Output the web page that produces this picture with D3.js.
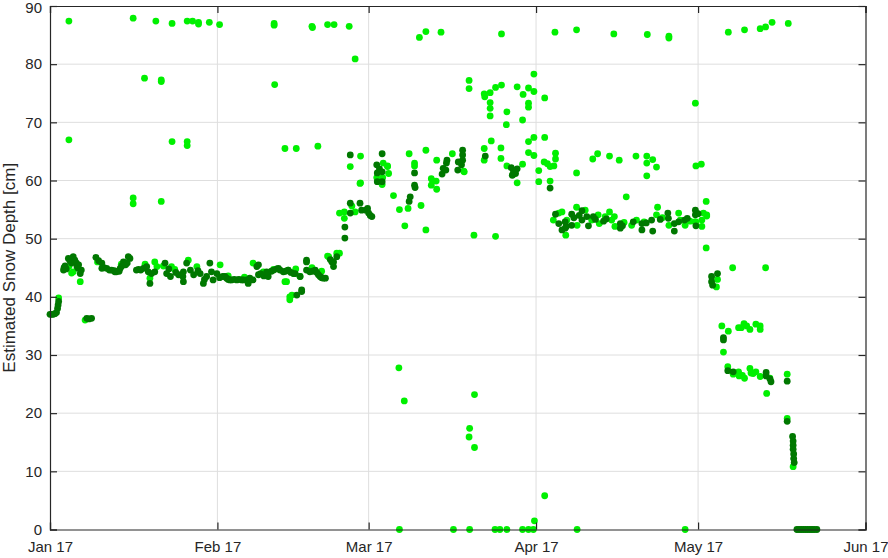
<!DOCTYPE html>
<html>
<head>
<meta charset="utf-8">
<script src="https://cdn.jsdelivr.net/npm/d3@7"></script>
<style>
  html, body { margin: 0; padding: 0; background: #ffffff; }
  svg { display: block; }
  text { font-family: "Liberation Sans", Arial, Helvetica, sans-serif; fill: #262626; }
</style>
</head>
<body>
<svg id="chart" width="888" height="558"></svg>
<script>
// ---------------- DATA ----------------
// Day offsets are counted from 2017-01-17; depths in cm.
const startDate = new Date(2017, 0, 17);
const xTickDates = ["2017-01-17", "2017-02-17", "2017-03-17", "2017-04-17", "2017-05-17", "2017-06-17"];
const yTicks = [0, 10, 20, 30, 40, 50, 60, 70, 80, 90];
const yLabel = "Estimated Snow Depth [cm]";

// bright green series: [day offset, depth]
const lightPoints = [
  // high / low outliers Jan–Feb
  [3.5,87.4],[3.5,67.0],[15.4,87.9],[15.4,57.0],[15.4,56.0],[17.5,77.6],[19.6,87.4],[20.6,77.0],[20.6,77.3],[20.6,56.4],
  [22.6,87.0],[22.6,66.7],[25.4,87.4],[25.4,66.7],[25.4,66.0],[26.4,87.4],[27.5,87.2],[27.5,86.9],[29.5,87.2],[31.4,86.8],
  [41.5,87.0],[41.5,86.7],[41.6,76.5],[43.5,65.5],[45.6,65.5],[48.5,86.5],[48.6,86.3],[49.6,65.9],[51.4,86.8],[52.6,86.8],
  [55.4,86.5],[56.5,80.9],
  // Jan–Feb band
  [1.6,39.8],[4.3,44.3],[5.6,42.6],[4.0,44.1],[3.5,45.2],[6.5,36.0],[18.5,43.2],[19.4,46.0],[19.8,45.2],[17.6,45.6],
  [22.5,45.2],[23.1,44.7],[25.6,46.3],[21.0,45.3],[27.2,45.2],[31.5,45.5],[37.6,45.8],[33.0,43.6],[36.0,43.4],
  [39.5,44.3],[41.4,44.7],[43.5,42.6],[43.8,42.6],[44.1,44.6],[44.4,39.5],[44.4,40.0],[44.8,40.3],[45.1,44.0],[46.3,43.5],
  [51.4,47.0],[51.6,46.9],[53.1,47.5],[53.6,47.5],[48.5,45.0],[50.3,44.4],[45.5,44.8],[13.2,45.6],[8.8,46.0],
  // rise end of Feb
  [53.6,54.4],[54.5,54.6],[54.5,53.5],[56.5,54.6],[57.4,59.5],[55.9,55.6],
  // March
  [55.6,62.4],[57.5,64.2],[57.5,59.6],[61.7,63.0],[62.5,62.5],[62.5,62.4],[62.7,61.2],[60.5,60.5],[61.5,59.3],[61.6,60.5],
  [63.6,57.4],[64.7,55.0],[65.7,52.2],[66.5,64.6],[67.5,63.0],[67.5,62.5],[66.3,55.2],[68.7,55.7],[69.6,65.2],[69.6,51.5],
  [70.6,60.3],[70.6,59.2],[70.9,59.9],[71.6,58.5],[71.5,59.9],[71.6,63.5],[74.5,64.6],[76.7,61.5],[76.6,61.6],
  [68.4,84.6],[69.6,85.6],[72.4,85.5],[83.6,85.2],[93.5,85.5],[97.5,85.9],
  [64.6,27.8],[65.6,22.1],[78.6,23.2],[77.7,17.4],[77.6,15.9],[78.6,14.1],
  [64.7,0],[74.7,0],[77.7,0],[82.4,0],[83.3,0],[84.6,0],[87.5,0],[88.6,0],[89.5,0],[89.7,1.5],[91.6,5.8],[97.6,0],[117.6,0],
  // late March – April scatter
  [77.6,77.2],[77.6,75.8],[89.6,78.3],[80.4,74.9],[80.5,74.4],[81.5,75.1],[82.5,76.0],[83.6,76.4],[86.5,76.1],[88.6,75.9],
  [87.6,74.8],[89.6,75.3],[91.6,74.2],[81.5,73.4],[81.5,72.4],[81.5,71.1],[84.6,71.8],[84.5,69.6],[88.6,73.3],[88.6,72.6],
  [87.5,70.4],[80.4,65.5],[80.4,63.5],[81.7,66.8],[83.5,65.6],[83.5,63.8],[84.6,62.5],[85.7,61.0],[86.5,59.6],[87.5,62.8],
  [88.6,64.8],[89.6,64.3],[88.6,66.7],[89.6,67.4],[91.6,67.4],[90.5,61.7],[90.5,59.8],[91.5,63.2],[92.1,62.9],[92.6,62.4],
  [93.3,62.5],[93.6,64.7],[93.6,63.7],[92.6,59.9],[97.5,61.3],[78.5,50.6],[82.5,50.4],
  [100.5,63.7],[101.4,64.6],[103.6,64.2],[105.4,63.5],[108.5,64.2],[110.5,64.2],[110.5,63.0],[111.6,63.6],[112.3,62.3],[110.5,60.8],
  // April–May band
  [93.2,53.2],[94.2,54.4],[94.8,54.6],[95.7,53.2],[95.5,50.6],[97.5,55.4],[95.4,52.9],[97.6,52.3],[99.1,54.9],[100.3,53.2],
  [101.5,54.1],[101.7,52.6],[103.6,54.6],[104.0,53.2],[104.5,53.8],[104.6,52.1],[107.7,52.3],[108.6,53.2],[110.0,52.9],
  [112.3,54.1],[114.6,52.3],[116.4,54.4],[116.7,53.2],[117.6,52.3],[119.4,52.9],[119.6,52.9],[120.7,52.1],[120.7,53.2],
  [121.6,53.9],[121.6,54.1],[121.0,54.4],[106.7,57.2],[112.5,55.4],[119.6,62.5],[120.6,62.8],[121.5,56.4],[121.5,48.4],
  [119.5,73.3],[104.4,85.2],[110.6,85.1],[114.6,84.8],[114.6,84.5],[125.6,85.5],[128.6,85.9],[131.5,86.1],[132.5,86.4],
  [133.7,87.2],[136.7,87.0],[102.8,53.8],[106.3,52.8],[113.4,53.6],[118.5,53.0],
  // May decline
  [126.4,45.0],[132.5,45.0],[123.6,43.0],[123.4,41.7],[124.4,35.0],[125.6,34.1],[124.7,30.5],[127.5,34.7],[128.5,35.4],
  [129.6,34.4],[130.7,35.3],[131.5,34.4],[129.0,35.0],[128.0,34.7],[131.5,35.0],[125.5,28.0],[126.5,26.7],[127.5,27.1],
  [127.6,26.4],[128.6,26.0],[129.6,27.7],[129.8,26.9],[130.7,27.1],[131.5,26.3],[132.7,23.4],[133.3,26.0],[136.5,26.7],
  [136.5,19.1],[137.6,10.8],[128.2,26.5],[130.2,26.8]
];

// dark green series: [day offset, depth]
const darkPoints = [
  [0.0,37.0],[0.3,37.0],[0.6,37.0],[0.9,37.1],[1.2,37.3],[1.4,38.0],[1.5,38.6],[1.6,39.2],
  [2.5,44.6],[2.6,45.0],[2.8,45.3],[3.0,44.8],[3.4,46.6],[3.7,46.2],[4.3,46.9],[4.0,45.8],[4.6,46.3],[4.9,45.8],[5.0,45.2],
  [5.2,44.9],[5.6,44.0],[5.3,45.5],[5.8,44.6],
  [6.8,36.3],[7.7,36.3],[7.2,36.2],
  [8.5,46.8],[9.0,46.2],[9.6,45.8],[9.6,44.9],[10.0,45.0],[10.5,44.9],[11.0,44.6],[11.4,44.6],[12.0,44.3],[12.3,44.3],
  [13.0,44.9],[13.3,45.3],[13.6,46.0],[14.0,45.5],[14.5,46.9],[14.3,45.8],[14.8,46.6],[12.8,44.4],[11.9,44.5],
  [16.0,44.6],[16.4,44.7],[17.3,44.9],[17.9,45.2],[18.2,44.3],[18.5,42.3],[19.4,44.3],[16.8,44.6],[18.8,44.0],
  [21.3,45.8],[21.6,44.0],[22.3,43.5],[23.3,44.2],[24.6,43.5],[24.7,44.3],[25.3,45.8],[24.7,42.6],[22.0,44.8],[23.8,43.8],
  [26.0,44.6],[26.6,43.8],[27.4,44.5],
  [27.8,44.0],[28.4,42.3],[29.0,43.5],[29.6,45.8],[29.9,44.3],[30.9,44.0],[30.2,42.9],[28.6,43.0],[31.4,43.3],
  [32.0,43.5],[32.4,43.5],[32.7,43.2],[33.0,43.0],[33.3,42.9],[33.6,42.9],[34.6,42.9],[35.5,42.9],[35.8,42.9],[36.4,42.9],
  [36.7,42.3],[37.0,43.2],[37.6,42.9],[38.3,45.2],[38.6,43.8],[38.6,45.5],[34.1,43.0],[35.0,43.0],[39.0,44.0],[39.6,43.6],
  [40.4,43.5],[40.1,44.3],[41.0,44.4],[41.4,44.6],[42.0,44.8],[42.3,44.9],[42.6,44.6],[43.2,44.3],[43.6,44.4],[44.1,44.6],
  [44.6,44.2],[45.1,44.0],[45.4,44.0],[45.7,40.3],[46.6,40.9],[46.6,41.2],[46.3,43.5],[47.5,46.0],[47.5,46.3],[47.5,44.6],
  [48.1,44.3],[48.6,44.4],[49.1,44.6],[49.4,44.2],[49.7,43.8],[50.0,43.5],[50.3,43.3],[50.6,43.2],[51.0,43.2],[51.9,46.4],
  [52.2,46.0],[52.5,45.2],[52.5,46.0],[53.1,46.9],
  [54.6,52.0],[54.6,50.1],[55.6,56.1],[55.6,54.4],[57.4,56.1],[57.7,54.9],[58.5,54.9],[59.0,54.4],[59.6,53.8],[58.8,55.2],[59.3,54.0],
  [55.6,64.4],[61.5,64.6],[60.5,62.7],[60.6,61.3],[60.6,59.8],[61.5,61.5],[61.5,59.8],[61.0,62.0],
  [67.5,61.3],[67.5,59.2],[67.6,58.8],[66.7,57.2],[66.5,56.4],
  [72.6,61.1],[72.8,62.1],[73.4,63.0],[73.5,63.5],[73.3,61.8],
  [76.4,65.2],[76.4,64.4],[76.4,63.5],[76.2,62.7],[75.6,63.2],[75.5,61.8],
  [80.6,64.2],[85.8,61.8],[85.4,62.2],[85.6,60.9],[86.2,61.2],[86.5,62.0],[85.9,61.5],[92.6,58.7],
  [93.6,54.2],[94.2,52.6],[94.8,51.5],[95.6,52.1],[95.4,52.9],[95.4,51.8],[96.6,54.2],[96.6,52.3],[97.0,53.6],[98.0,54.0],
  [98.5,54.8],[98.5,53.2],[99.4,53.8],[99.7,52.2],[100.6,53.8],[101.0,53.3],[102.5,53.0],[103.0,53.4],[105.6,52.6],[105.6,51.8],
  [106.0,52.2],[108.0,52.9],[109.6,52.6],[109.6,51.5],[110.4,52.7],[111.4,53.2],[111.6,51.3],[113.0,53.3],
  [114.4,54.4],[114.5,53.5],[115.6,52.6],[115.6,51.3],[116.4,52.9],[117.5,53.2],[118.0,53.5],[119.5,54.9],[119.5,54.1],
  [119.6,52.2],[120.0,54.3],
  [122.5,43.5],[122.5,42.6],[122.7,42.0],[123.6,44.0],[124.7,33.0],[124.7,32.6],[125.5,27.3],[126.5,27.1],
  [132.6,27.0],[132.6,26.4],[133.5,25.4],[133.3,25.9],[136.5,25.5],[136.5,18.6],
  [137.5,16.0],[137.6,15.2],[137.6,14.5],[137.6,13.8],[137.7,13.0],[137.7,12.2],[137.8,11.5],
  [138.3,0],[138.7,0],[139.1,0],[139.5,0],[139.9,0],[140.3,0],[140.7,0],[141.1,0],[141.5,0],[142.0,0]
];

// ---------------- CHART ----------------
const W = 888, H = 558;
const margin = { left: 50, right: 22.5, top: 6, bottom: 28.5 };
const svg = d3.select("#chart");
const parse = d3.timeParse("%Y-%m-%d");
const tickDates = xTickDates.map(parse);

const x = d3.scaleTime()
  .domain([tickDates[0], tickDates[tickDates.length - 1]])
  .range([margin.left, W - margin.right]);
const y = d3.scaleLinear()
  .domain([0, 90])
  .range([H - margin.bottom, margin.top]);

const toDate = d => new Date(startDate.getTime() + d * 864e5);

const gridColor = "#dedede";
const axisColor = "#262626";
const fontSize = 15;

// grid
const grid = svg.append("g");
grid.selectAll("line.vx").data(tickDates.slice(1, -1)).join("line")
  .attr("x1", d => x(d)).attr("x2", d => x(d))
  .attr("y1", y(0)).attr("y2", y(90))
  .attr("stroke", gridColor).attr("stroke-width", 1);
grid.selectAll("line.hy").data(yTicks.slice(1, -1)).join("line")
  .attr("x1", x.range()[0]).attr("x2", x.range()[1])
  .attr("y1", d => y(d)).attr("y2", d => y(d))
  .attr("stroke", gridColor).attr("stroke-width", 1);

// points
svg.append("g").selectAll("circle").data(lightPoints).join("circle")
  .attr("cx", d => x(toDate(d[0]))).attr("cy", d => y(d[1]))
  .attr("r", 3.4).attr("fill", "#00f000");
svg.append("g").selectAll("circle").data(darkPoints).join("circle")
  .attr("cx", d => x(toDate(d[0]))).attr("cy", d => y(d[1]))
  .attr("r", 3.4).attr("fill", "#007800");

// axes (ticks inward on all four sides)
const tickLen = 7;
const fmt = d3.timeFormat("%b %d");
const xAxisB = d3.axisBottom(x).tickValues(tickDates).tickFormat(fmt).tickSize(-tickLen).tickPadding(12);
const xAxisT = d3.axisTop(x).tickValues(tickDates).tickFormat("").tickSize(-tickLen);
const yAxisL = d3.axisLeft(y).tickValues(yTicks).tickSize(-tickLen).tickPadding(8);
const yAxisR = d3.axisRight(y).tickValues(yTicks).tickFormat("").tickSize(-tickLen);

function style(g) {
  g.select(".domain").attr("stroke", axisColor).attr("stroke-width", 1.2);
  g.selectAll(".tick line").attr("stroke", axisColor).attr("stroke-width", 1.2);
  g.selectAll(".tick text").attr("fill", axisColor)
    .style("font-family", '"Liberation Sans", Arial, sans-serif')
    .style("font-size", fontSize + "px");
}
svg.append("g").attr("transform", `translate(0,${y(0)})`).call(xAxisB).call(style);
svg.append("g").attr("transform", `translate(0,${y(90)})`).call(xAxisT).call(style);
svg.append("g").attr("transform", `translate(${x.range()[0]},0)`).call(yAxisL).call(style)
  .selectAll(".tick text").attr("dy", d => d === 90 ? "0.45em" : "0.32em");
svg.append("g").attr("transform", `translate(${x.range()[1]},0)`).call(yAxisR).call(style);

// y label
svg.append("text")
  .attr("transform", `translate(11,${(y(0) + y(90)) / 2}) rotate(-90)`)
  .attr("text-anchor", "middle")
  .attr("dominant-baseline", "middle")
  .style("font-size", "17px")
  .text(yLabel);
</script>
</body>
</html>
